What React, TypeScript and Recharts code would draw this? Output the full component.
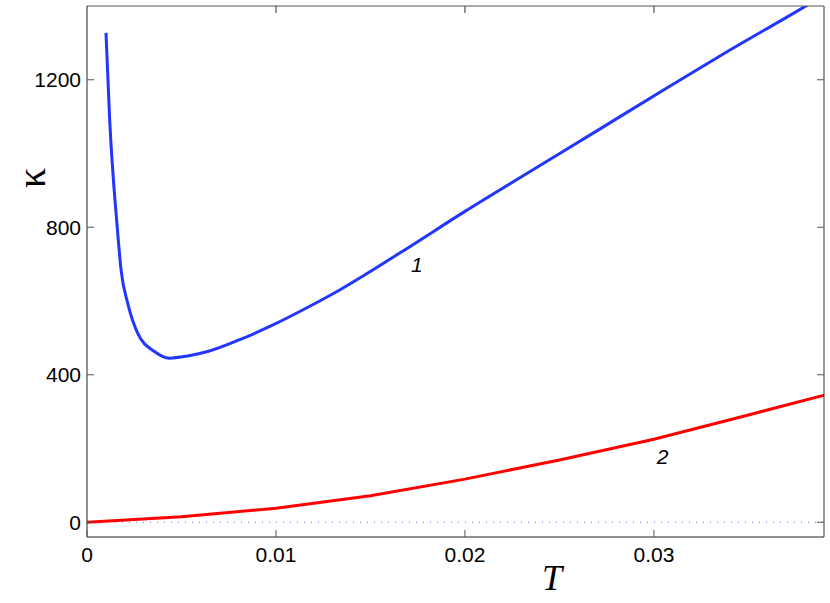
import { LineChart, Line, XAxis, YAxis, ReferenceLine, ReferenceDot, Label } from "recharts";

// curve 1 (blue)
const curve1T = [
  0.001005, 0.0012, 0.0016, 0.0018, 0.00215, 0.00268, 0.00357, 0.00436, 0.00533,
  0.00639, 0.00808, 0.00984, 0.01161, 0.01337, 0.01655, 0.02, 0.0236, 0.027,
  0.03066, 0.034, 0.038, 0.039,
];
const curve1K = [
  1327, 1092, 800, 685, 595, 513, 463, 445, 451, 463, 495, 535, 581, 630, 730,
  843, 956, 1062, 1177, 1280, 1399, 1430,
];

// curve 2 (red)
const curve2T = [0, 0.005, 0.01, 0.015, 0.02, 0.025, 0.03, 0.035, 0.04];
const curve2K = [0, 15, 38, 72, 117, 169, 225, 291, 358];

const xTicks = [0, 0.01, 0.02, 0.03];
const xTickLabels = ["0", "0.01", "0.02", "0.03"];
const yTicks = [0, 400, 800, 1200];

const curve1 = curve1T.map((t, i) => ({ t, k: curve1K[i] }));
const curve2 = curve2T.map((t, i) => ({ t, k: curve2K[i] }));

const sans = "Liberation Sans, Arial, sans-serif";
const serif = "Liberation Serif, Times New Roman, serif";
const TICK = 7;

function BottomTick(props: any) {
  const { x, y, payload } = props;
  const label = xTickLabels[xTicks.indexOf(payload.value)] ?? String(payload.value);
  const axisY = y - 10;
  return (
    <g>
      <line x1={x} x2={x} y1={axisY} y2={axisY - TICK} stroke="#555" />
      <text x={x} y={y} dy="0.71em" textAnchor="middle" fontSize={21} fontFamily={sans} fill="#000">
        {label}
      </text>
    </g>
  );
}

function LeftTick(props: any) {
  const { x, y, payload } = props;
  const axisX = x + 6;
  return (
    <g>
      <line x1={axisX} x2={axisX + TICK} y1={y} y2={y} stroke="#555" />
      <text x={x} y={y} dy="0.36em" textAnchor="end" fontSize={21} fontFamily={sans} fill="#000">
        {payload.value}
      </text>
    </g>
  );
}

function TopTick(props: any) {
  const { x, y } = props;
  return <line x1={x} x2={x} y1={y} y2={y + TICK} stroke="#333" />;
}

function RightTick(props: any) {
  const { x, y } = props;
  return <line x1={x} x2={x - TICK} y1={y} y2={y} stroke="#555" />;
}

export default function App() {
  return (
    <div style={{ position: "absolute", left: 0, top: 0, background: "#fff" }}>
      <LineChart width={830} height={603} margin={{ top: 5, right: 5, bottom: 0, left: 0 }}>
        <XAxis
          xAxisId="b"
          type="number"
          dataKey="t"
          domain={[0, 0.039]}
          allowDataOverflow
          ticks={xTicks}
          tick={<BottomTick />}
          tickLine={false}
          tickSize={0}
          tickMargin={10}
          height={66}
          stroke="#222"
        >
          <Label
            content={() => (
              <text
                x={552}
                y={590}
                textAnchor="middle"
                fontSize={36}
                fontStyle="italic"
                fontFamily={serif}
                fill="#000"
              >
                T
              </text>
            )}
          />
        </XAxis>
        <XAxis
          xAxisId="top"
          orientation="top"
          type="number"
          dataKey="t"
          domain={[0, 0.039]}
          allowDataOverflow
          ticks={xTicks.slice(1)}
          tick={<TopTick />}
          tickLine={false}
          tickSize={0}
          tickMargin={0}
          height={1}
          stroke="#555"
        />
        <YAxis
          yAxisId="l"
          type="number"
          domain={[-40, 1400]}
          allowDataOverflow
          ticks={yTicks}
          tick={<LeftTick />}
          tickLine={false}
          tickSize={0}
          tickMargin={6}
          width={87}
          stroke="#222"
        >
          <Label
            content={() => (
              <text
                x={45}
                y={178}
                transform="rotate(-90 45 178)"
                textAnchor="middle"
                fontSize={40}
                fontFamily={serif}
                fill="#000"
              >
                κ
              </text>
            )}
          />
        </YAxis>
        <YAxis
          yAxisId="r"
          orientation="right"
          type="number"
          domain={[-40, 1400]}
          allowDataOverflow
          ticks={yTicks}
          tick={<RightTick />}
          tickLine={false}
          tickSize={0}
          tickMargin={0}
          width={1}
          stroke="#333"
        />
        <ReferenceLine
          xAxisId="b"
          yAxisId="l"
          y={0}
          stroke="#5a6cff"
          strokeWidth={1}
          strokeDasharray="1 6"
        />
        <Line
          xAxisId="b"
          yAxisId="l"
          data={curve1}
          dataKey="k"
          type="monotone"
          stroke="#2236ff"
          strokeWidth={3}
          dot={false}
          isAnimationActive={false}
        />
        <Line
          xAxisId="b"
          yAxisId="l"
          data={curve2}
          dataKey="k"
          type="linear"
          stroke="#ff0000"
          strokeWidth={3}
          dot={false}
          isAnimationActive={false}
        />
        <ReferenceDot
          xAxisId="b"
          yAxisId="l"
          x={0.01745}
          y={698}
          r={0}
          fill="none"
          stroke="none"
          label={{
            value: "1",
            position: "center",
            fontSize: 21,
            fontStyle: "italic",
            fill: "#000",
            fontFamily: sans,
          }}
        />
        <ReferenceDot
          xAxisId="b"
          yAxisId="l"
          x={0.03046}
          y={178}
          r={0}
          fill="none"
          stroke="none"
          label={{
            value: "2",
            position: "center",
            fontSize: 21,
            fontStyle: "italic",
            fill: "#000",
            fontFamily: sans,
          }}
        />
      </LineChart>
    </div>
  );
}
